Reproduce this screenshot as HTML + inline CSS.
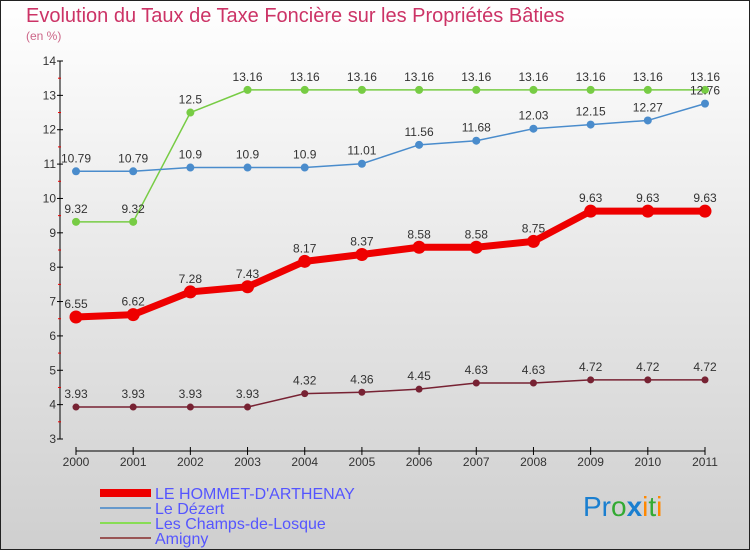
<!DOCTYPE html>
<html><head><meta charset="utf-8"><style>
body{margin:0}
#c{width:750px;height:550px;position:relative;overflow:hidden}
svg{font-family:"Liberation Sans",sans-serif}
</style></head><body>
<div id="c">
<svg id="s" width="750" height="550" viewBox="0 0 750 550" xmlns="http://www.w3.org/2000/svg">
<defs><linearGradient id="bg" x1="0" y1="0" x2="0" y2="1"><stop offset="0" stop-color="#ffffff"/><stop offset="1" stop-color="#cfcfcf"/></linearGradient></defs>
<rect x="0.5" y="0.5" width="749" height="549" fill="url(#bg)" stroke="#222"/>
<text x="26" y="22" font-size="20" fill="#cc3366">Evolution du Taux de Taxe Foncière sur les Propriétés Bâties</text>
<text x="26" y="40" font-size="12" fill="#cc6688">(en %)</text>
<g id="axes"></g><g id="series"></g>
<g font-size="16" fill="#5555ff">
<rect x="100" y="489" width="51" height="8" fill="#ee0000"/>
<text x="155" y="499" fill="#5555ff">LE HOMMET-D'ARTHENAY</text>
<line x1="100" y1="508" x2="151" y2="508" stroke="#6699cc" stroke-width="2"/>
<text x="155" y="514" fill="#5555ff">Le Dézert</text>
<line x1="100" y1="523" x2="151" y2="523" stroke="#88dd55" stroke-width="2"/>
<text x="155" y="529" fill="#5555ff">Les Champs-de-Losque</text>
<line x1="100" y1="538" x2="151" y2="538" stroke="#995555" stroke-width="2"/>
<text x="155" y="544" fill="#5555ff">Amigny</text>
</g>
<text x="583" y="516" font-size="28"><tspan fill="#1a7fd0">Pr</tspan><tspan fill="#33aa33">o</tspan><tspan fill="#1a7fd0" font-weight="bold">x</tspan><tspan fill="#ff8800">i</tspan><tspan fill="#33aa33">t</tspan><tspan fill="#ff8800">i</tspan></text>
</svg></div>
<script>
const years=[2000,2001,2002,2003,2004,2005,2006,2007,2008,2009,2010,2011];
const hommet=[6.55,6.62,7.28,7.43,8.17,8.37,8.58,8.58,8.75,9.63,9.63,9.63];
const dezert=[10.79,10.79,10.9,10.9,10.9,11.01,11.56,11.68,12.03,12.15,12.27,12.76];
const champs=[9.32,9.32,12.5,13.16,13.16,13.16,13.16,13.16,13.16,13.16,13.16,13.16];
const amigny=[3.93,3.93,3.93,3.93,4.32,4.36,4.45,4.63,4.63,4.72,4.72,4.72];
const yTicks=[3,4,5,6,7,8,9,10,11,12,13,14];
const NS="http://www.w3.org/2000/svg";
function X(i){return 76+i*(705-76)/(years.length-1);}
function Y(v){return 439-(v-3)*(439-61)/11;}
function mk(tag,attrs,parent,txt){const e=document.createElementNS(NS,tag);for(const k in attrs)e.setAttribute(k,attrs[k]);if(txt!==undefined)e.textContent=txt;parent.appendChild(e);return e;}
const ax=document.getElementById('axes');
let e=mk('line',{x1:60,y1:Y(14),x2:60,y2:Y(3),stroke:'#000'},ax);


e=mk('line',{x1:76,y1:451,x2:705,y2:451,stroke:'#000'},ax);


yTicks.forEach(t=>{
 mk('line',{x1:57,y1:Y(t),x2:63,y2:Y(t),stroke:'#000'},ax);
 if(t<14) mk('line',{x1:58,y1:Y(t+0.5),x2:61,y2:Y(t+0.5),stroke:'#e00'},ax);
 const l=mk('text',{x:56,y:Y(t)+4,'font-size':12,'text-anchor':'end',fill:'#333'},ax,t);
 
 
});
years.forEach((y,i)=>{
 mk('line',{x1:X(i),y1:447,x2:X(i),y2:455,stroke:'#000'},ax);
 const l=mk('text',{x:X(i),y:466,'font-size':12,'text-anchor':'middle',fill:'#333'},ax,y);
 
 
});
const sg=document.getElementById('series');
function series(name,data,color,w,r){
 const g=mk('g',{},sg);
 
 
 const p=mk('polyline',{points:data.map((v,i)=>X(i)+','+Y(v)).join(' '),fill:'none',stroke:color,'stroke-width':w,'stroke-linejoin':'round'},g);
 
 
 data.forEach((v,i)=>{
  const c=mk('circle',{cx:X(i),cy:Y(v),r:r,fill:color},g);
  
  
  const t=mk('text',{x:X(i),y:Y(v)-9,'font-size':12,'text-anchor':'middle',fill:'#333'},g,String(v));
  
  
 });
}
series('champs',champs,'#77cc44',1.5,4);
series('dezert',dezert,'#4a8ccc',1.5,4);
series('amigny',amigny,'#772233',1.5,3.5);
series('hommet',hommet,'#ee0000',7,6.5);
</script>
</body></html>
